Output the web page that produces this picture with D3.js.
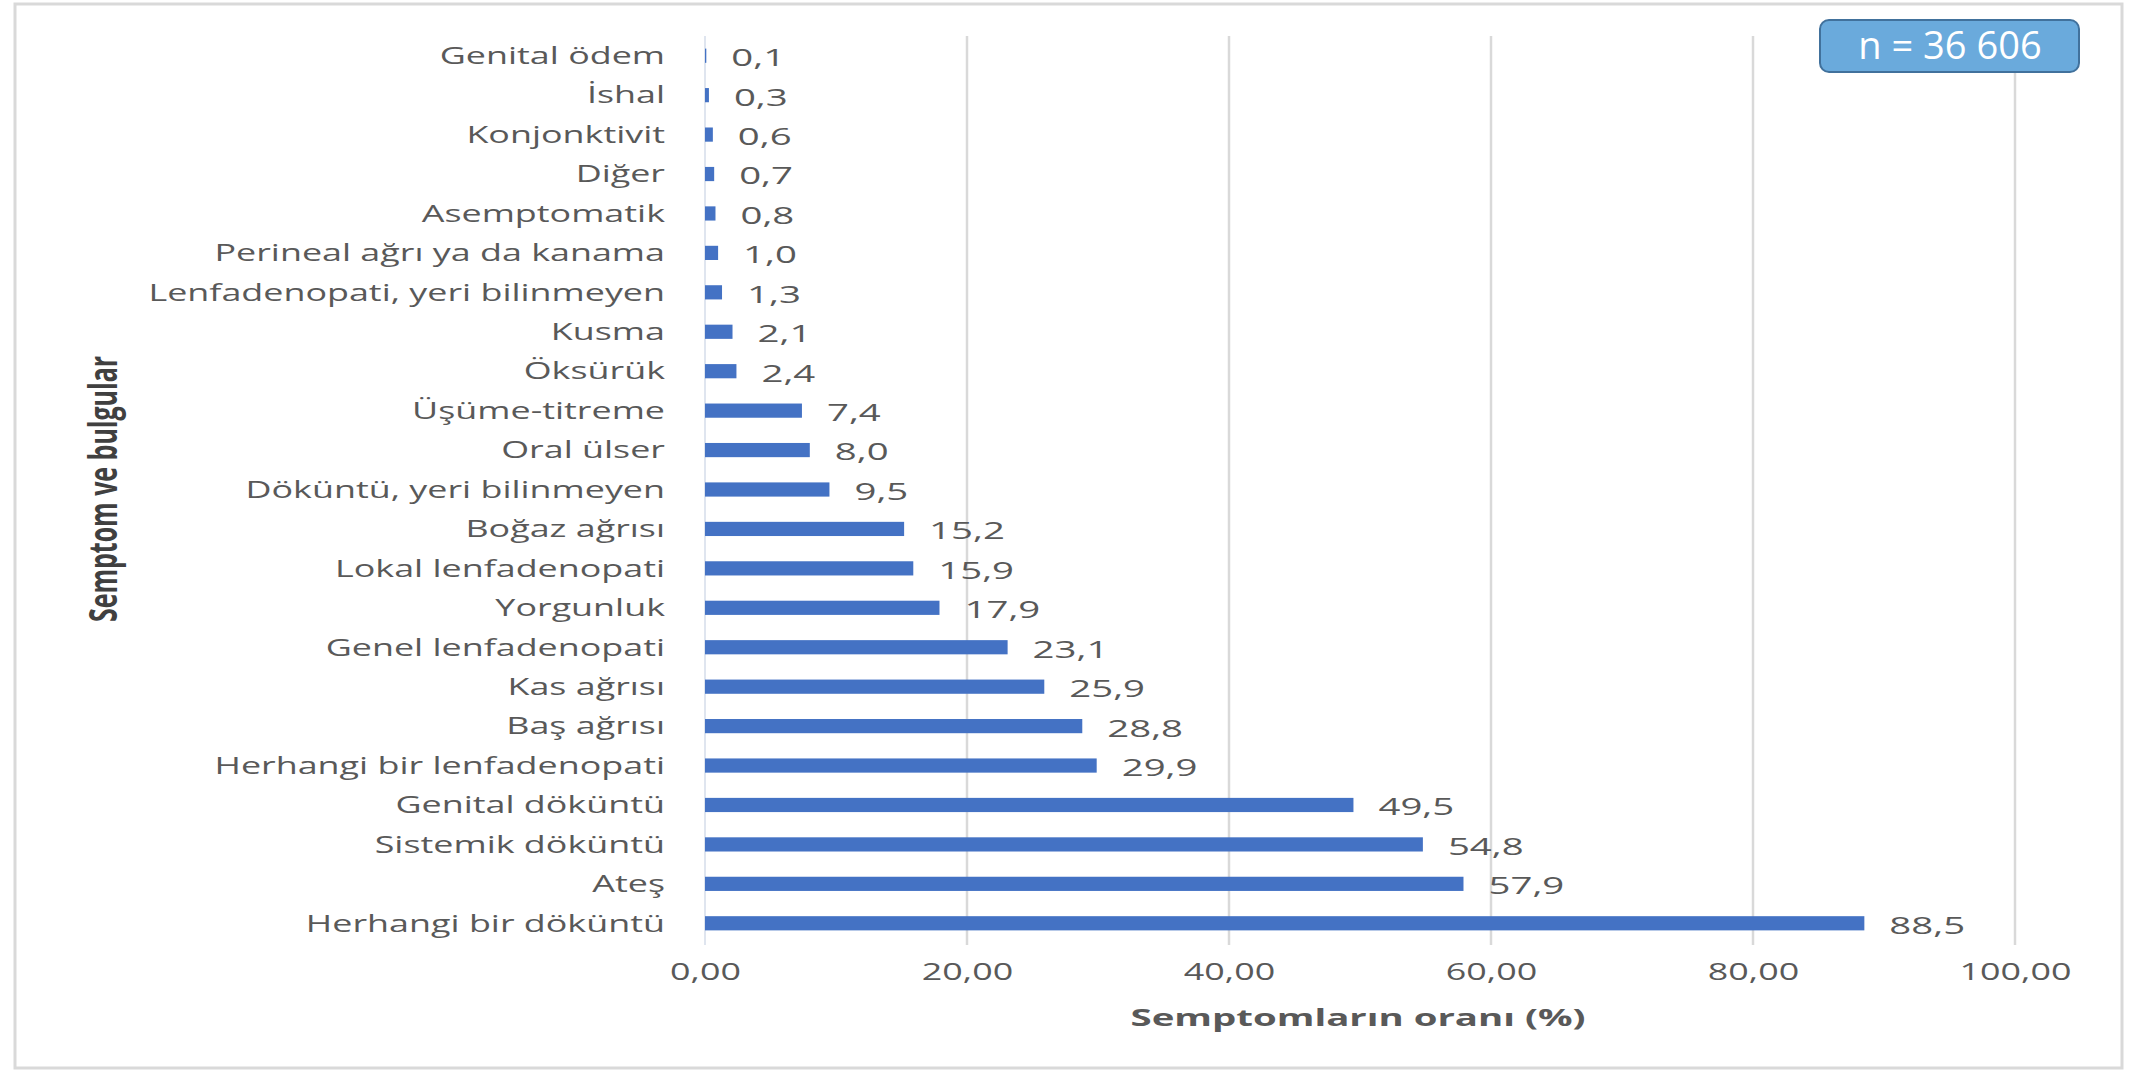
<!DOCTYPE html>
<html>
<head>
<meta charset="utf-8">
<style>
    body {
        margin: 0;
        background: white;
        font-family: "Open Sans", Helvetica, Arial, sans-serif;
    }
    svg {
        display: block;
    }
</style>
<script src="https://d3js.org/d3.v7.min.js"></script>
</head>
<body>
<svg id="chart"></svg>
<script>
    // categories top to bottom, percentages
    let symptoms = [
        "Genital ödem", "İshal", "Konjonktivit", "Diğer", "Asemptomatik",
        "Perineal ağrı ya da kanama", "Lenfadenopati, yeri bilinmeyen",
        "Kusma", "Öksürük", "Üşüme-titreme", "Oral ülser",
        "Döküntü, yeri bilinmeyen", "Boğaz ağrısı", "Lokal lenfadenopati",
        "Yorgunluk", "Genel lenfadenopati", "Kas ağrısı", "Baş ağrısı",
        "Herhangi bir lenfadenopati", "Genital döküntü", "Sistemik döküntü",
        "Ateş", "Herhangi bir döküntü"
    ]
    let rates = [
        0.1, 0.3, 0.6, 0.7, 0.8, 1.0, 1.3, 2.1, 2.4, 7.4, 8.0, 9.5,
        15.2, 15.9, 17.9, 23.1, 25.9, 28.8, 29.9, 49.5, 54.8, 57.9, 88.5
    ]
    let xTicks = [0, 20, 40, 60, 80, 100]
    let xTitle = "Semptomların oranı (%)"
    let yTitle = "Semptom ve bulgular"
    let sampleLabel = "n = 36 606"

    let data = symptoms.map((s, i) => ({name: s, value: rates[i]}))

    // turkish style numbers: comma as decimal mark
    let tr = d3.formatLocale({decimal: ",", thousands: " ", grouping: [3], currency: ["", ""]})
    let fmtTick = tr.format(".2f")
    let fmtValue = tr.format(".1f")

    function getConfig() {
        let width = 2138
        let height = 1072
        let margin = {top: 36, bottom: 129, left: 705, right: 123}
        let bodyWidth = width - margin.left - margin.right
        let bodyHeight = height - margin.top - margin.bottom
        let sx = 1.56 // the source text is drawn wide
        let container = d3.select('#chart')
            .attr('width', width)
            .attr('height', height)
        return {width, height, margin, bodyWidth, bodyHeight, sx, container}
    }

    function getScales(config) {
        let xScale = d3.scaleLinear()
            .domain([0, 100])
            .range([config.margin.left, config.margin.left + config.bodyWidth])
        let yScale = d3.scaleBand()
            .domain(symptoms)
            .range([config.margin.top, config.margin.top + config.bodyHeight])
            .paddingInner(0.64)
            .paddingOuter(0.32)
        return {xScale, yScale}
    }

    // widen a text around its own anchor point
    function widen(sel, sx) {
        sel.each(function () {
            let t = d3.select(this)
            let x = +t.attr('x') || 0
            t.attr('x', 0)
                .attr('transform', `translate(${x},0) scale(${sx},1)`)
        })
    }

    function drawFrame(config) {
        config.container.append('rect')
            .attr('x', 15).attr('y', 4)
            .attr('width', config.width - 31)
            .attr('height', config.height - 8)
            .attr('fill', 'white')
            .attr('stroke', '#d9d9d9')
            .attr('stroke-width', 3)
    }

    function drawGrid(scales, config) {
        let {xScale, yScale} = scales
        let [y0, y1] = yScale.range()
        config.container.append('g')
            .selectAll('line')
            .data(xTicks)
            .join('line')
            .attr('x1', d => xScale(d))
            .attr('x2', d => xScale(d))
            .attr('y1', y0)
            .attr('y2', y1 + 2)
            .attr('stroke', d => d === 0 ? '#dfe5ef' : '#d9d9d9')
            .attr('stroke-width', d => d === 0 ? 2 : 2.5)
    }

    function drawBars(scales, config) {
        let {xScale, yScale} = scales
        config.container.append('g')
            .selectAll('rect')
            .data(data)
            .join('rect')
            .attr('x', xScale(0))
            .attr('y', d => yScale(d.name))
            .attr('width', d => xScale(d.value) - xScale(0))
            .attr('height', yScale.bandwidth())
            .attr('fill', '#4472c4')

        let labels = config.container.append('g')
            .selectAll('text')
            .data(data)
            .join('text')
            .attr('x', d => xScale(d.value) + 25)
            .attr('y', d => yScale(d.name) + yScale.bandwidth() / 2 + 2)
            .attr('dy', '0.35em')
            .attr('font-size', 24)
            .attr('fill', '#595959')
            .text(d => fmtValue(d.value))
        widen(labels, 1.6)
    }

    function drawAxes(scales, config) {
        let {xScale, yScale} = scales
        let {container, margin, height, sx} = config

        let axisY = d3.axisLeft(yScale).tickSize(0).tickPadding(40)
        let gy = container.append('g')
            .attr('transform', `translate(${margin.left},0)`)
            .call(axisY)
        gy.select('.domain').remove()
        gy.selectAll('text')
            .attr('font-size', 23)
            .attr('font-family', '"Open Sans", sans-serif')
            .attr('fill', '#595959')
            .attr('dy', '0.36em')
        widen(gy.selectAll('text'), sx)

        let axisX = d3.axisBottom(xScale).tickValues(xTicks).tickSize(0).tickPadding(21).tickFormat(fmtTick)
        let gx = container.append('g')
            .attr('transform', `translate(0,${height - margin.bottom})`)
            .call(axisX)
        gx.select('.domain').remove()
        gx.selectAll('text')
            .attr('font-size', 23)
            .attr('font-family', '"Open Sans", sans-serif')
            .attr('fill', '#595959')
        widen(gx.selectAll('text'), sx)

        let xt = container.append('text')
            .attr('x', 1358)
            .attr('y', 1026)
            .attr('text-anchor', 'middle')
            .attr('font-size', 24)
            .attr('font-weight', 'bold')
            .attr('fill', '#595959')
            .text(xTitle)
        widen(xt, 1.6)

        container.append('text')
            .attr('transform', 'translate(103,489) rotate(-90) scale(1,1.55)')
            .attr('text-anchor', 'middle')
            .attr('dy', '0.35em')
            .attr('font-size', 25)
            .attr('font-weight', 'bold')
            .attr('fill', '#404040')
            .text(yTitle)
    }

    function drawBadge(config) {
        let g = config.container.append('g')
        g.append('rect')
            .attr('x', 1820).attr('y', 20)
            .attr('width', 259).attr('height', 52)
            .attr('rx', 9)
            .attr('fill', '#6aaadc')
            .attr('stroke', '#41719c')
            .attr('stroke-width', 2)
        g.append('text')
            .attr('x', 1950).attr('y', 46)
            .attr('dy', '0.35em')
            .attr('text-anchor', 'middle')
            .attr('font-size', 38)
            .attr('fill', 'white')
            .text(sampleLabel)
    }

    let config = getConfig()
    let scales = getScales(config)
    drawFrame(config)
    drawGrid(scales, config)
    drawBars(scales, config)
    drawAxes(scales, config)
    drawBadge(config)
</script>
</body>
</html>
